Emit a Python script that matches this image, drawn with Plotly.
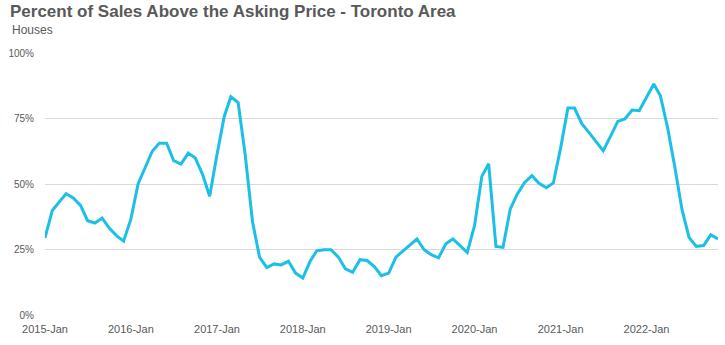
import pandas as pd
import plotly.graph_objects as go

# Monthly share of house sales closing above asking price (%), Toronto area
months = pd.date_range("2015-01-01", periods=95, freq="MS")
pct_above_asking = [
    29.4, 39.9, 43.0, 46.3, 44.7, 41.8, 36.0, 35.1, 37.0, 33.2, 30.3, 28.2,
    36.6, 50.1, 56.1, 62.5, 65.6, 65.6, 58.9, 57.6, 61.8, 59.9, 53.6, 45.3,
    61.2, 75.8, 83.3, 81.1, 61.2, 35.7, 22.1, 18.1, 19.5, 19.1, 20.5, 16.0,
    14.1, 20.5, 24.5, 24.9, 24.9, 22.1, 17.6, 16.3, 21.1, 20.8, 18.5, 15.0,
    16.0, 22.1, 24.3, 26.6, 29.0, 24.9, 23.0, 21.8, 27.2, 29.0, 26.5, 23.9,
    34.1, 52.9, 57.7, 26.2, 25.8, 40.5, 46.2, 50.6, 53.2, 50.3, 48.6, 50.4,
    63.8, 79.0, 79.0, 73.0, 69.7, 66.3, 62.7, 68.2, 73.9, 74.8, 78.2, 78.0,
    83.2, 88.2, 83.7, 71.4, 56.7, 40.2, 29.6, 26.2, 26.5, 30.6, 29.0,
]
y_ticks = [0, 25, 50, 75, 100]
y_tick_labels = ["0%", "25%", "50%", "75%", "100%"]

title_text = "Percent of Sales Above the Asking Price - Toronto Area"
subtitle_text = "Houses"

fig = go.Figure(
    go.Scatter(
        x=months,
        y=pct_above_asking,
        mode="lines",
        line=dict(color="#1CBFE6", width=3),
        hoverinfo="skip",
    )
)

fig.update_layout(
    width=725,
    height=345,
    margin=dict(l=45, r=7, t=53, b=30),
    paper_bgcolor="white",
    plot_bgcolor="white",
    showlegend=False,
    font=dict(family="Liberation Sans, Arial, sans-serif", color="#595959", size=11),
    title=dict(
        text=f"<b>{title_text}</b>",
        x=10 / 725,
        xanchor="left",
        xref="container",
        y=1 - 5 / 345,
        yanchor="top",
        yref="container",
        font=dict(size=17, color="#595959"),
    ),
    annotations=[
        dict(
            text=subtitle_text,
            xref="paper",
            yref="paper",
            x=-35 / 673,
            y=1 + 23 / 262,
            xanchor="left",
            yanchor="middle",
            showarrow=False,
            font=dict(size=12, color="#595959"),
        )
    ],
)

fig.update_xaxes(
    range=[months[0], months[-1]],
    tickformat="%Y-%b",
    dtick="M12",
    tick0=months[0],
    showgrid=False,
    zeroline=False,
    showline=False,
    ticks="",
    ticklabelstandoff=6,
    tickfont=dict(size=11, color="#595959"),
)

fig.update_yaxes(
    range=[0, 100],
    tickmode="array",
    tickvals=y_ticks,
    ticktext=y_tick_labels,
    showgrid=True,
    gridcolor="#D9D9D9",
    gridwidth=1,
    zeroline=False,
    showline=False,
    ticks="",
    ticklabelstandoff=10,
    tickfont=dict(size=10, color="#595959"),
)

fig.write_html("out.html")
